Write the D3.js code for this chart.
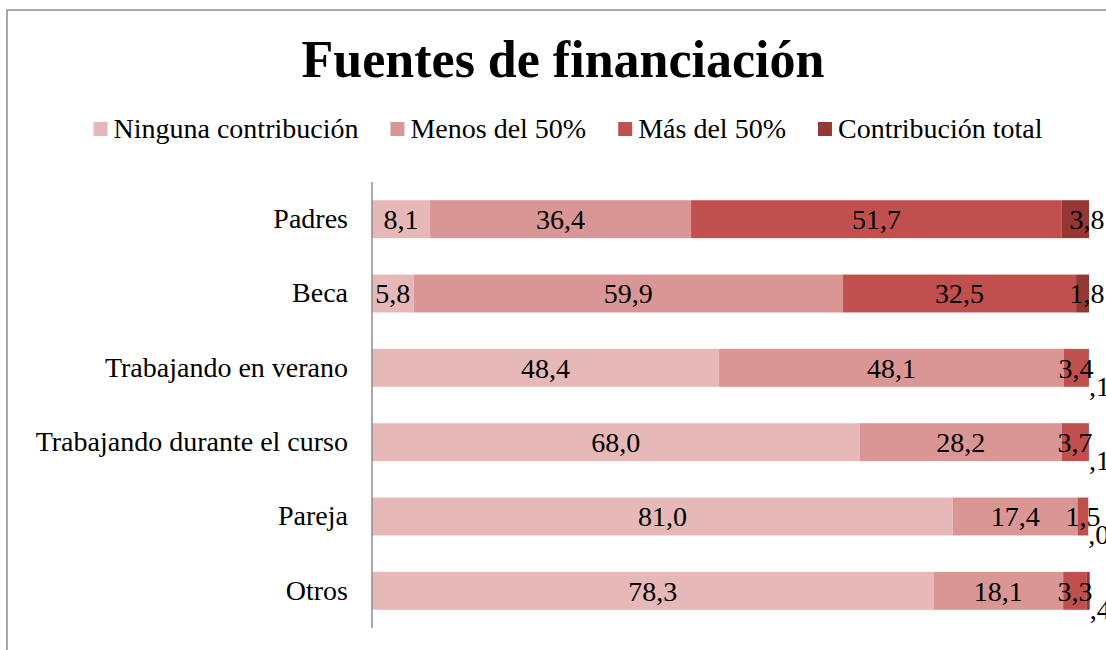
<!DOCTYPE html>
<html>
<head>
<meta charset="utf-8">
<script src="https://cdn.jsdelivr.net/npm/d3@7"></script>
<style>
  body { margin: 0; background: #fff; }
  text { font-family: "Liberation Serif", "DejaVu Serif", serif; fill: #000; }
</style>
</head>
<body>
<div class="chart"></div>
<script>
// categorias (de arriba a abajo)
var categorias = ["Padres", "Beca", "Trabajando en verano", "Trabajando durante el curso", "Pareja", "Otros"];
var series = ["Ninguna contribución", "Menos del 50%", "Más del 50%", "Contribución total"];
var colores = ["#e6b9b8", "#d99694", "#c0504d", "#953735"];

// valores en % por serie
var ninguna = [8.1, 5.8, 48.4, 68.0, 81.0, 78.3];
var menos50 = [36.4, 59.9, 48.1, 28.2, 17.4, 18.1];
var mas50 = [51.7, 32.5, 3.4, 3.7, 1.5, 3.3];
var total = [3.8, 1.8, 0.1, 0.1, 0.0, 0.4];

var width = 1106, height = 650;
var plot = {left: 372, right: 1089, top: 182, bottom: 628};
var tam = "28px";

var svg = d3.select(".chart")
    .append("svg")
    .attr("width", width)
    .attr("height", height);

// marco
svg.append("rect")
    .attr("x", 7).attr("y", 10)
    .attr("width", width + 20).attr("height", height + 20)
    .style("fill", "none")
    .style("stroke", "#8c8c8c")
    .style("stroke-width", 1.5);

// titulo
svg.append("text")
    .attr("x", 563)
    .attr("y", 77)
    .attr("text-anchor", "middle")
    .style("font-size", "52px")
    .style("font-weight", "bold")
    .text("Fuentes de financiación");

var tabla = categorias.map(function (c, i) {
    return {cat: c, "Ninguna contribución": ninguna[i], "Menos del 50%": menos50[i],
        "Más del 50%": mas50[i], "Contribución total": total[i]};
});

var stack = d3.stack().keys(series)(tabla);

var xScale = d3.scaleLinear()
    .domain([0, 100])
    .range([plot.left, plot.right]);

var yScale = d3.scaleBand()
    .domain(categorias)
    .range([plot.top, plot.bottom])
    .paddingInner(0.49)
    .paddingOuter(0.245);

var color = d3.scaleOrdinal().domain(series).range(colores);

// barras
var capas = svg.append("g")
    .selectAll("g")
    .data(stack)
    .enter().append("g")
    .style("fill", function (d) { return color(d.key); });

capas.selectAll("rect")
    .data(function (d) { return d; })
    .enter().append("rect")
    .attr("x", function (d) { return xScale(d[0]); })
    .attr("y", function (d) { return yScale(d.data.cat); })
    .attr("width", function (d) { return Math.max(0, xScale(d[1]) - xScale(d[0])); })
    .attr("height", yScale.bandwidth());

// eje vertical
var yAxis = d3.axisLeft(yScale).tickSize(0).tickPadding(24);
var gy = svg.append("g")
    .attr("transform", "translate(" + plot.left + ",0)")
    .call(yAxis);
gy.select(".domain")
    .attr("d", "M0," + plot.top + "V" + plot.bottom)
    .style("stroke", "#8c8c8c")
    .style("stroke-width", 1.5);
gy.selectAll("text")
    .style("font-size", tam)
    .style("font-family", "Liberation Serif")
    .attr("dy", "0.32em");

// etiquetas de datos
function fmt(v) {
    var s = d3.format(".1f")(v).replace(".", ",");
    if (s.indexOf("0,") === 0) s = s.substring(1);
    return s;
}

stack.forEach(function (capa, k) {
    var ultimo = k === series.length - 1;
    svg.append("g").selectAll("text")
        .data(capa)
        .enter().append("text")
        .attr("x", function (d) {
            if (ultimo) return d[1] - d[0] < 1 ? xScale(d[1]) : xScale(d[1]) - 2;
            return (xScale(d[0]) + xScale(d[1])) / 2;
        })
        .attr("y", function (d) {
            var c = yScale(d.data.cat) + yScale.bandwidth() / 2;
            return (ultimo && d[1] - d[0] < 1) ? c + 18 : c;
        })
        .attr("dy", "0.35em")
        .attr("text-anchor", function (d) {
            return (ultimo && d[1] - d[0] < 1) ? "start" : "middle";
        })
        .style("font-size", tam)
        .text(function (d) { return fmt(d.data[capa.key]); });
});

// leyenda
var leyenda = svg.append("g");
var xpos = 0;
series.forEach(function (s, i) {
    var item = leyenda.append("g").attr("transform", "translate(" + xpos + ",0)");
    item.append("rect")
        .attr("x", 0).attr("y", 122)
        .attr("width", 14).attr("height", 14)
        .style("fill", colores[i]);
    var t = item.append("text")
        .attr("x", 20).attr("y", 138)
        .style("font-size", tam)
        .text(s);
    xpos += 20 + t.node().getComputedTextLength() + 32;
});
var anchoLeyenda = xpos - 32;
leyenda.attr("transform", "translate(" + (568 - anchoLeyenda / 2) + ",0)");
</script>
</body>
</html>
